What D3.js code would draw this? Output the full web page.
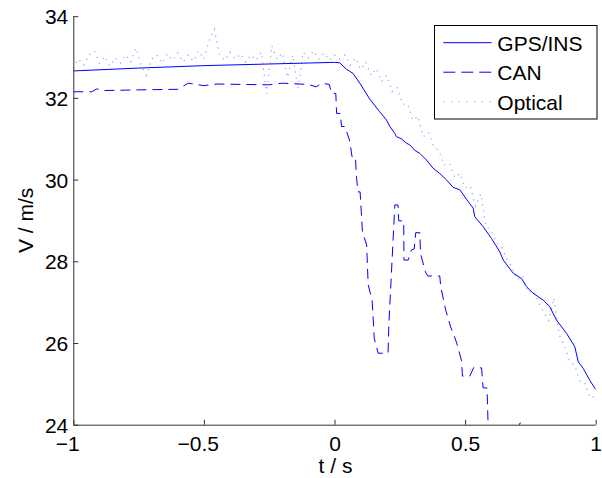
<!DOCTYPE html>
<html>
<head>
<meta charset="utf-8">
<script src="https://cdn.jsdelivr.net/npm/d3@7"></script>
<style>
  body { margin: 0; background: #fff; }
  svg text { font-family: "Liberation Sans", Arial, sans-serif; fill: #000; }
</style>
</head>
<body>
<div id="chart"></div>
<script>

// tick values
var xTicks = [-1, -0.5, 0, 0.5, 1];
var yTicks = [24, 26, 28, 30, 32, 34];

// GPS/INS reference speed
var gpsT = [-1, -0.75, -0.5, -0.25, 0, 0.02, 0.046, 0.071, 0.097, 0.135, 0.173, 0.199, 0.212, 0.231, 0.237, 0.256,
	0.276, 0.288, 0.307, 0.327, 0.352, 0.377, 0.403, 0.429, 0.454, 0.48, 0.505, 0.531, 0.537, 0.569, 0.601, 0.633,
	0.646, 0.684, 0.716, 0.735, 0.76, 0.799, 0.824, 0.85, 0.888, 0.92, 0.933, 0.952, 0.977, 1.0];
var gpsV = [32.66, 32.73, 32.79, 32.83, 32.87, 32.86, 32.70, 32.6, 32.36, 31.97, 31.66, 31.46, 31.3, 31.13, 31.05, 31.0,
	30.89, 30.85, 30.72, 30.64, 30.48, 30.28, 30.15, 29.99, 29.81, 29.75, 29.52, 29.3, 29.09, 28.85, 28.56, 28.23,
	28.03, 27.71, 27.58, 27.38, 27.22, 27.05, 26.89, 26.56, 26.24, 25.91, 25.54, 25.38, 25.09, 24.86];

// CAN wheel speed (step like)
var canT = [-1, -0.93, -0.91, -0.88, -0.8, -0.72, -0.6, -0.56, -0.5, -0.45, -0.35, -0.25, -0.2, -0.1, -0.07, -0.05, -0.02,
	-0.011, 0.005, 0.008, 0.022, 0.027, 0.04, 0.059, 0.067, 0.08, 0.084, 0.09, 0.098, 0.107, 0.123, 0.129, 0.144,
	0.148, 0.152, 0.167, 0.205, 0.208, 0.231, 0.243, 0.246, 0.265, 0.266, 0.282, 0.295, 0.305, 0.311, 0.327, 0.329,
	0.348, 0.357, 0.403, 0.407, 0.426, 0.445, 0.467, 0.486, 0.49, 0.518, 0.533, 0.563, 0.569, 0.584, 0.588, 0.6,
	0.69, 0.71, 0.725, 0.74, 1];
var canV = [32.15, 32.15, 32.22, 32.18, 32.19, 32.2, 32.21, 32.36, 32.3, 32.34, 32.33, 32.32, 32.36, 32.33, 32.27, 32.36, 32.33,
	32.11, 32.11, 31.62, 31.62, 31.3, 31.3, 30.93, 30.56, 30.56, 30.07, 29.7, 29.7, 28.72, 28.4, 27.42, 27.05,
	26.61, 26.12, 25.75, 25.75, 26.44, 29.38, 29.38, 28.99, 28.99, 28.03, 28.03, 28.28, 28.3, 28.7, 28.7, 28.2,
	27.74, 27.64, 27.64, 27.37, 26.8, 26.39, 26.02, 25.58, 25.19, 25.19, 25.4, 25.39, 24.9, 24.9, 24.0, 23.6,
	23.6, 24.04, 24.04, 23.6, 23.2];

// Optical sensor speed (noisy), one value every 0.02 s from -1 to 1
var optT = [];
for (var i = 0; i <= 100; i++) { optT.push(-1 + i * 0.02); }
var optV = [32.72, 32.95, 32.80, 33.05, 33.15, 32.85, 33.02, 32.78, 32.98, 32.85,
	33.05, 32.88, 33.22, 32.80, 32.55, 32.95, 33.05, 32.85, 33.08, 32.92,
	33.10, 32.88, 33.05, 32.90, 33.15, 32.95, 33.40, 33.68, 33.05, 32.92,
	33.12, 32.95, 33.08, 32.88, 33.05, 32.92, 33.12, 32.10, 33.28, 32.95,
	33.10, 32.50, 33.05, 32.22, 33.12, 32.98, 33.15, 32.95, 33.10, 32.92,
	33.05, 32.95, 33.05, 32.80, 32.98, 32.70, 32.88, 32.55, 32.72, 32.40,
	32.55, 32.15, 32.25, 31.85, 31.85, 31.45, 31.55, 31.05, 31.15, 30.80,
	30.70, 30.35, 30.40, 30.05, 30.15, 29.80, 29.85, 29.35, 29.65, 28.85,
	28.75, 28.45, 28.35, 28.05, 27.85, 27.55, 27.65, 27.25, 27.30, 27.00,
	26.75, 26.55, 27.10, 26.20, 25.95, 25.55, 25.45, 25.05, 25.00, 24.65,
	24.72];

var legendNames = ["GPS/INS", "CAN", "Optical"];

var width = 602, height = 478;
var margin = {left: 73.3, right: 6.3, top: 16.2, bottom: 53.3};
var fontSize = 21;
var blue = "#0000ff";
var optColor = "#7070ff";

var svg = d3.select("#chart").append("svg")
	.attr("width", width)
	.attr("height", height);

var x = d3.scaleLinear().domain([-1, 1]).range([margin.left, width - margin.right]);
var y = d3.scaleLinear().domain([24, 34]).range([height - margin.bottom, margin.top]);

svg.append("clipPath").attr("id", "plotclip")
	.append("rect")
	.attr("x", x(-1)).attr("y", y(34))
	.attr("width", x(1) - x(-1)).attr("height", y(24) - y(34));

var line = d3.line().x(function(d){ return x(d[0]); }).y(function(d){ return y(d[1]); });

var plot = svg.append("g").attr("clip-path", "url(#plotclip)");

// optical first so the others sit on top
plot.append("path")
	.datum(d3.zip(optT, optV))
	.attr("d", line)
	.attr("fill", "none")
	.attr("stroke", optColor)
	.attr("stroke-opacity", 0.7)
	.attr("stroke-width", 1.2)
	.attr("stroke-dasharray", "1.2,5");

plot.append("path")
	.datum(d3.zip(canT, canV))
	.attr("d", line)
	.attr("fill", "none")
	.attr("stroke", blue)
	.attr("stroke-width", 1)
	.attr("stroke-dasharray", "10,6");

plot.append("path")
	.datum(d3.zip(gpsT, gpsV))
	.attr("d", line)
	.attr("fill", "none")
	.attr("stroke", blue)
	.attr("stroke-width", 1);

// axes: MATLAB style, ticks inside, box off
function fmt(d){ return String(Math.abs(d)); }

var xAxis = svg.append("g")
	.attr("transform", "translate(0," + y(24) + ")")
	.call(d3.axisBottom(x).tickValues(xTicks).tickSize(-5).tickFormat(fmt));
var yAxis = svg.append("g")
	.attr("transform", "translate(" + x(-1) + ",0)")
	.call(d3.axisLeft(y).tickValues(yTicks).tickSize(-5).tickFormat(fmt));

[xAxis, yAxis].forEach(function(a){
	a.select(".domain").attr("stroke", "#333").attr("stroke-width", 1);
	a.selectAll(".tick line").attr("stroke", "#333");
	a.selectAll("text").attr("font-size", fontSize).attr("font-family", "Liberation Sans, Arial, sans-serif").attr("fill", "#000");
});
// plain axis lines without d3's outer stubs
xAxis.select(".domain").attr("d", "M" + x(-1) + ",0.5H" + x(1));
yAxis.select(".domain").attr("d", "M0.5," + y(24) + "V" + y(34));

xAxis.selectAll("text")
	.attr("y", 11)
	.attr("dy", "0.71em");
// minus sign hangs left of the centred digits
xAxis.selectAll(".tick text").each(function(d){
	if (d < 0) {
		d3.select(this).text("\u2212" + fmt(d)).attr("dx", -fontSize * 0.584 / 2);
	}
});
yAxis.selectAll("text").attr("x", -5).attr("dy", "0.36em");

svg.append("text")
	.attr("x", x(0) + 1)
	.attr("y", 473)
	.attr("text-anchor", "middle")
	.attr("font-size", fontSize)
	.text("t / s");

svg.append("text")
	.attr("transform", "translate(33," + ((y(24) + y(34)) / 2) + ") rotate(-90)")
	.attr("text-anchor", "middle")
	.attr("font-size", fontSize)
	.text("V / m/s");

// legend
var lg = svg.append("g");
lg.append("rect")
	.attr("x", 434.5).attr("y", 25.5)
	.attr("width", 162.5).attr("height", 93.5)
	.attr("fill", "#fff")
	.attr("stroke", "#000")
	.attr("stroke-width", 1);

var legendStyles = [
	{dash: null, color: blue, op: 1},
	{dash: "12,6", color: blue, op: 1},
	{dash: "1.2,6.5", color: optColor, op: 0.7}
];
legendNames.forEach(function(name, i){
	var ly = 42.7 + i * 29.5;
	var l = lg.append("line")
		.attr("x1", 443.3).attr("x2", 491.7)
		.attr("y1", ly).attr("y2", ly)
		.attr("stroke", legendStyles[i].color)
		.attr("stroke-opacity", legendStyles[i].op)
		.attr("stroke-width", 1);
	if (legendStyles[i].dash) l.attr("stroke-dasharray", legendStyles[i].dash);
	lg.append("text")
		.attr("x", 497.3)
		.attr("y", ly + 7.8)
		.attr("font-size", fontSize)
		.text(name);
});

</script>
</body>
</html>
